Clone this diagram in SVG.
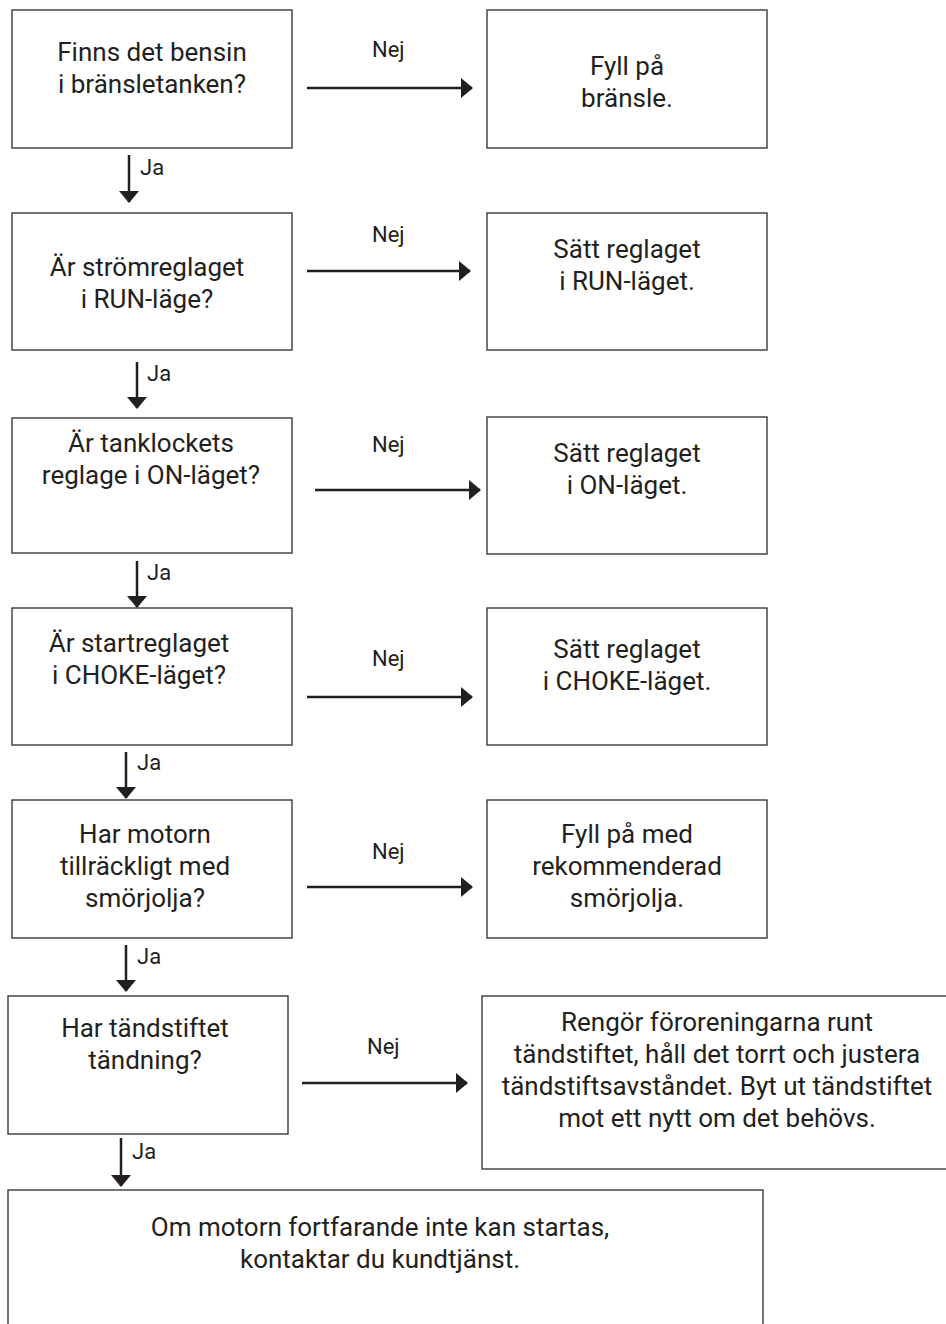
<svg xmlns="http://www.w3.org/2000/svg" width="946" height="1324" viewBox="0 0 946 1324">
<style>
.box{fill:#fff;stroke:#3a3a3a;stroke-width:1.4}
.t{font-family:Roboto,"Liberation Sans",sans-serif;font-size:26px;fill:#231f20;text-anchor:middle}
.l{font-family:Roboto,"Liberation Sans",sans-serif;font-size:22px;fill:#231f20}
.c{stroke:#231f20;stroke-width:2.5;fill:none}
</style>
<defs>
<marker id="ah" viewBox="0 0 12 20" refX="11" refY="10" markerWidth="12" markerHeight="20" orient="auto" markerUnits="userSpaceOnUse">
<path d="M0,0 L12,10 L0,20 Z" fill="#231f20"/>
</marker>
</defs>
<rect width="946" height="1324" fill="#fff"/>
<g id="q1"><rect class="box" x="12" y="10" width="280" height="138"/><text class="t" x="152" y="61">Finns det bensin</text><text class="t" x="152" y="93">i bränsletanken?</text></g>
<g id="a1"><rect class="box" x="487" y="10" width="280" height="138"/><text class="t" x="627" y="75">Fyll på</text><text class="t" x="627" y="107">bränsle.</text></g>
<g id="q2"><rect class="box" x="12" y="213" width="280" height="137"/><text class="t" x="147" y="276">Är strömreglaget</text><text class="t" x="147" y="308">i RUN-läge?</text></g>
<g id="a2"><rect class="box" x="487" y="213" width="280" height="137"/><text class="t" x="627" y="258">Sätt reglaget</text><text class="t" x="627" y="290">i RUN-läget.</text></g>
<g id="q3"><rect class="box" x="12" y="418" width="280" height="135"/><text class="t" x="151" y="452">Är tanklockets</text><text class="t" x="151" y="484">reglage i ON-läget?</text></g>
<g id="a3"><rect class="box" x="487" y="417" width="280" height="137"/><text class="t" x="627" y="462">Sätt reglaget</text><text class="t" x="627" y="494">i ON-läget.</text></g>
<g id="q4"><rect class="box" x="12" y="608" width="280" height="137"/><text class="t" x="139" y="652">Är startreglaget</text><text class="t" x="139" y="684">i CHOKE-läget?</text></g>
<g id="a4"><rect class="box" x="487" y="608" width="280" height="137"/><text class="t" x="627" y="658">Sätt reglaget</text><text class="t" x="627" y="690">i CHOKE-läget.</text></g>
<g id="q5"><rect class="box" x="12" y="800" width="280" height="138"/><text class="t" x="145" y="843">Har motorn</text><text class="t" x="145" y="875">tillräckligt med</text><text class="t" x="145" y="907">smörjolja?</text></g>
<g id="a5"><rect class="box" x="487" y="800" width="280" height="138"/><text class="t" x="627" y="843">Fyll på med</text><text class="t" x="627" y="875">rekommenderad</text><text class="t" x="627" y="907">smörjolja.</text></g>
<g id="q6"><rect class="box" x="8" y="996" width="280" height="138"/><text class="t" x="145" y="1037">Har tändstiftet</text><text class="t" x="145" y="1069">tändning?</text></g>
<g id="a6"><rect class="box" x="482" y="996" width="466" height="173"/><text class="t" x="717" y="1031">Rengör föroreningarna runt</text><text class="t" x="717" y="1063">tändstiftet, håll det torrt och justera</text><text class="t" x="717" y="1095">tändstiftsavståndet. Byt ut tändstiftet</text><text class="t" x="717" y="1127">mot ett nytt om det behövs.</text></g>
<g id="end"><rect class="box" x="8" y="1190" width="755" height="140"/><text class="t" x="380" y="1236">Om motorn fortfarande inte kan startas,</text><text class="t" x="380" y="1268">kontaktar du kundtjänst.</text></g>
<g id="connectors">
<line class="c" x1="307" y1="88" x2="472" y2="88" marker-end="url(#ah)"/>
<text class="l" x="372" y="57">Nej</text>
<line class="c" x1="307" y1="271" x2="470" y2="271" marker-end="url(#ah)"/>
<text class="l" x="372" y="242">Nej</text>
<line class="c" x1="315" y1="490" x2="480" y2="490" marker-end="url(#ah)"/>
<text class="l" x="372" y="452">Nej</text>
<line class="c" x1="307" y1="697" x2="472" y2="697" marker-end="url(#ah)"/>
<text class="l" x="372" y="666">Nej</text>
<line class="c" x1="307" y1="887" x2="472" y2="887" marker-end="url(#ah)"/>
<text class="l" x="372" y="859">Nej</text>
<line class="c" x1="302" y1="1083" x2="467" y2="1083" marker-end="url(#ah)"/>
<text class="l" x="367" y="1054">Nej</text>
<line class="c" x1="129" y1="155" x2="129" y2="202" marker-end="url(#ah)"/>
<text class="l" x="140" y="175">Ja</text>
<line class="c" x1="137" y1="362" x2="137" y2="408" marker-end="url(#ah)"/>
<text class="l" x="147" y="381">Ja</text>
<line class="c" x1="137" y1="561" x2="137" y2="607" marker-end="url(#ah)"/>
<text class="l" x="147" y="580">Ja</text>
<line class="c" x1="126" y1="752" x2="126" y2="798" marker-end="url(#ah)"/>
<text class="l" x="137" y="770">Ja</text>
<line class="c" x1="126" y1="945" x2="126" y2="991" marker-end="url(#ah)"/>
<text class="l" x="137" y="964">Ja</text>
<line class="c" x1="121" y1="1138" x2="121" y2="1186" marker-end="url(#ah)"/>
<text class="l" x="132" y="1159">Ja</text>
</g>
</svg>
